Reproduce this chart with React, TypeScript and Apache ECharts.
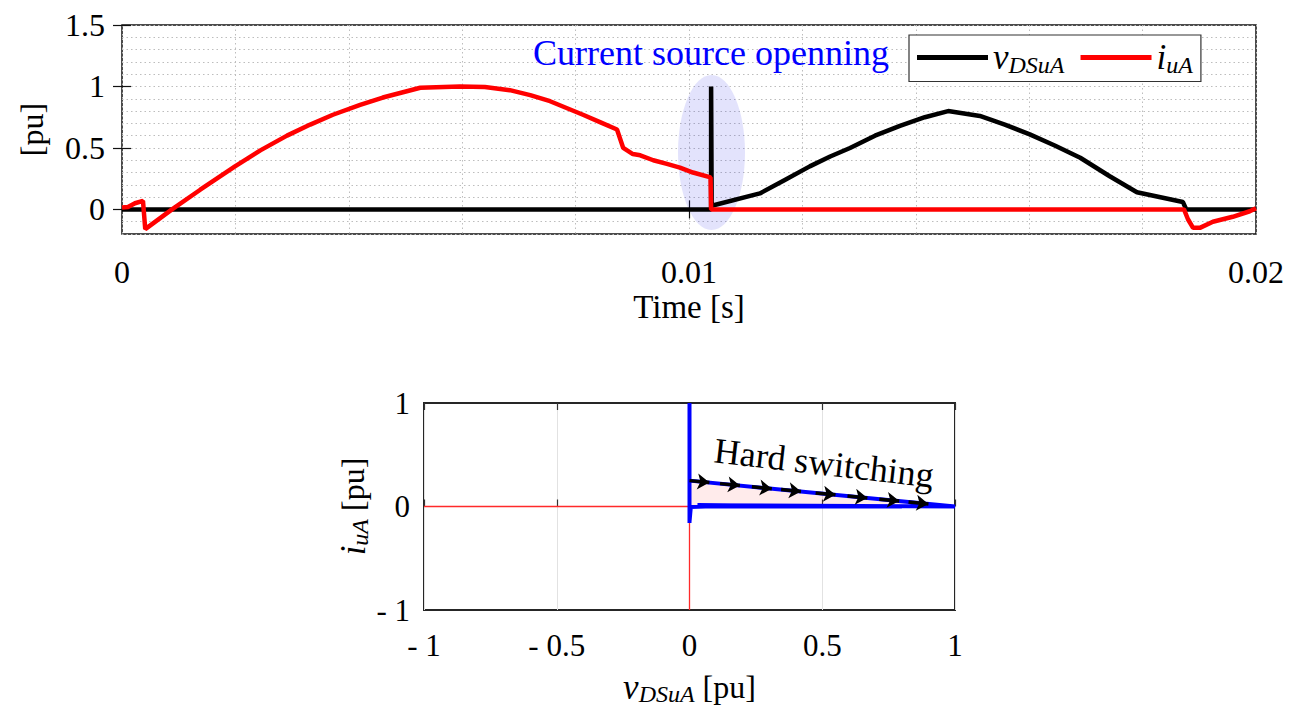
import React, { useEffect, useRef } from "react";
import * as echarts from "echarts";

const FONT = "'Liberation Serif', 'DejaVu Serif', serif";

// ---- top chart data (time in s, values in pu) ----
const vTime = [0, 0.01039, 0.01039, 0.0104, 0.01125, 0.01169, 0.01213, 0.01249, 0.01284, 0.01328, 0.01372, 0.01416, 0.01457, 0.01513, 0.01557, 0.01601, 0.01645, 0.0169, 0.01742, 0.0179, 0.01871, 0.01877, 0.02];
const vVal = [0, 0, 1, 0.03, 0.13, 0.24, 0.35, 0.43, 0.5, 0.6, 0.68, 0.75, 0.8, 0.76, 0.69, 0.61, 0.52, 0.42, 0.27, 0.14, 0.06, 0, 0];

const iTime = [0, 0.000106, 0.000229, 0.00037, 0.00041, 0.000882, 0.00138, 0.001993, 0.00244, 0.00291, 0.00332, 0.00372, 0.00420, 0.0046, 0.00526, 0.00596, 0.00640, 0.00684, 0.00720, 0.00755, 0.00813, 0.00843, 0.00873, 0.00884, 0.00901, 0.00914, 0.00937, 0.00961, 0.00984, 0.01007, 0.01038, 0.01039, 0.01873, 0.0188, 0.01889, 0.01901, 0.01924, 0.01959, 0.01989, 0.02];
const iVal = [0.015, 0.02, 0.05, 0.07, -0.16, 0, 0.16, 0.35, 0.48, 0.6, 0.69, 0.77, 0.85, 0.91, 0.99, 1.0, 0.995, 0.97, 0.93, 0.88, 0.77, 0.71, 0.65, 0.5, 0.45, 0.44, 0.4, 0.37, 0.34, 0.3, 0.26, 0, 0, -0.08, -0.15, -0.15, -0.1, -0.06, -0.015, 0.01];

const topXTicks = [0, 0.01, 0.02];
const topXTickLabels = ["0", "0.01", "0.02"];
const topXInnerTicks = [0.01];
const topYTicks = [0, 0.5, 1, 1.5];

// ---- bottom chart data (v, i in pu) ----
const loopV = [0, 0, 0, 0, 0, 1, 0.03, 0.8, 0.06, 0.005, 0, 0];
const loopI = [0, 0.07, -0.16, 1, 0.25, 0, 0.012, 0, 0, -0.005, -0.15, 0];
const fillV = [0, 1];
const fillI = [0.25, 0];
const zeroHV = [-1, 1];
const zeroHI = [0, 0];
const zeroVV = [0, 0];
const zeroVI = [-1, 1];
const arrowStartV = [0, 0.115, 0.235, 0.345, 0.475, 0.595, 0.715, 0.825];
const arrowStartI = [0.25, 0.221, 0.191, 0.164, 0.131, 0.101, 0.071, 0.044];
const arrowEndV = [0.075, 0.19, 0.31, 0.42, 0.55, 0.67, 0.79, 0.9];
const arrowEndI = [0.231, 0.2025, 0.1725, 0.145, 0.1125, 0.0825, 0.0525, 0.025];
const botXTicks = [-1, -0.5, 0, 0.5, 1];
const botYTicks = [-1, 0, 1];

const zip = (a: number[], b: number[]) => a.map((x, k) => [x, b[k]]);
const signedLabel = (v: number) => (v < 0 ? "- " + String(Math.abs(v)) : String(v));

export default function App() {
  const ref = useRef<HTMLDivElement>(null);
  useEffect(() => {
    document.body.style.margin = "0";
    const chart = echarts.init(ref.current!, null, { renderer: "svg" });
    const italicRich = {
      v: { fontFamily: FONT, fontStyle: "italic", fontSize: 35, color: "#000" },
      s: { fontFamily: FONT, fontStyle: "italic", fontSize: 24, color: "#000", padding: [14, 0, 0, 0] },
      n: { fontFamily: FONT, fontSize: 32, color: "#000" },
    } as any;
    const dotted = { show: true, lineStyle: { color: "#bdbdbd", width: 1, type: [1.5, 3] } };
    const tickStyle = { color: "#111", width: 1.2 };
    const option: any = {
      animation: false,
      backgroundColor: "#fff",
      grid: [
        { left: 122, top: 25, width: 1134, height: 209, show: true, borderColor: "#111", borderWidth: 1.5, backgroundColor: "transparent" },
        { left: 424, top: 403, width: 531, height: 207, show: true, borderColor: "#262626", borderWidth: 2, backgroundColor: "transparent" },
      ],
      xAxis: [
        {
          gridIndex: 0, type: "value", min: 0, max: 0.02,
          axisLine: { show: false },
          axisTick: { show: true, inside: true, length: 9, customValues: topXInnerTicks, lineStyle: tickStyle },
          axisLabel: {
            customValues: topXTicks, margin: 22, fontFamily: FONT, fontSize: 32, color: "#000",
            formatter: (v: number) => { const k = topXTicks.findIndex((t) => Math.abs(t - v) < 1e-9); return k >= 0 ? topXTickLabels[k] : ""; },
          },
          splitLine: { show: false },
          name: "Time [s]", nameLocation: "middle", nameGap: 56,
          nameTextStyle: { fontFamily: FONT, fontSize: 33, color: "#000" },
        },
        {
          gridIndex: 0, type: "value", min: 0, max: 0.02, position: "top",
          axisLine: { show: false },
          axisTick: { show: true, inside: true, length: 9, customValues: topXInnerTicks, lineStyle: tickStyle },
          axisLabel: { show: false }, splitLine: { show: false },
        },
        {
          gridIndex: 1, type: "value", min: -1, max: 1, interval: 0.5,
          axisLine: { show: false },
          axisTick: { show: true, inside: true, length: 7, lineStyle: { color: "#333", width: 1.2 } },
          axisLabel: { margin: 20, fontFamily: FONT, fontSize: 31, color: "#000", formatter: (v: number) => signedLabel(v), customValues: botXTicks },
          splitLine: { show: true, lineStyle: { color: "#e2e2e2", width: 1 } },
          name: "{v|v}{s|DSuA}{n| [pu]}", nameLocation: "middle", nameGap: 58,
          nameTextStyle: { rich: italicRich },
        },
        {
          gridIndex: 1, type: "value", min: -1, max: 1, interval: 0.5, position: "top",
          axisLine: { show: false },
          axisTick: { show: true, inside: true, length: 7, lineStyle: { color: "#333", width: 1.2 } },
          axisLabel: { show: false }, splitLine: { show: false },
        },
        {
          gridIndex: 0, type: "value", min: 0, max: 0.02, interval: 0.002, position: "bottom", offset: 0,
          axisLine: { show: false }, axisTick: { show: false }, axisLabel: { show: false },
          splitLine: dotted,
        },
      ],
      yAxis: [
        {
          gridIndex: 0, type: "value", min: -0.2, max: 1.5,
          axisLine: { show: false },
          axisTick: { show: true, inside: true, length: 9, customValues: topYTicks, lineStyle: tickStyle },
          axisLabel: { customValues: topYTicks, margin: 17, fontFamily: FONT, fontSize: 32, color: "#000" },
          splitLine: { show: false },
          name: "[pu]", nameLocation: "middle", nameGap: 74, nameRotate: 90,
          nameTextStyle: { fontFamily: FONT, fontSize: 32, color: "#000" },
        },
        {
          gridIndex: 0, type: "value", min: -0.2, max: 1.5, position: "right",
          axisLine: { show: false },
          axisTick: { show: true, inside: true, length: 9, customValues: topYTicks, lineStyle: tickStyle },
          axisLabel: { show: false }, splitLine: { show: false },
        },
        {
          gridIndex: 1, type: "value", min: -1, max: 1, interval: 1,
          axisLine: { show: false },
          axisTick: { show: false },
          axisLabel: { margin: 14, fontFamily: FONT, fontSize: 31, color: "#000", formatter: (v: number) => signedLabel(v), customValues: botYTicks },
          splitLine: { show: false },
          name: "{v|i}{s|uA}{n| [pu]}", nameLocation: "middle", nameGap: 52, nameRotate: 90,
          nameTextStyle: { rich: italicRich },
        },
        {
          gridIndex: 0, type: "value", min: -0.2, max: 1.5, interval: 0.1, position: "left",
          axisLine: { show: false }, axisTick: { show: false }, axisLabel: { show: false },
          splitLine: dotted,
        },
      ],
      legend: {
        left: 909, top: 35, orient: "horizontal",
        data: ["vDSuA", "iuA"],
        icon: "rect",
        itemWidth: 71, itemHeight: 5, itemGap: 16,
        padding: [5, 8, 5, 8],
        borderColor: "#333", borderWidth: 1.2, backgroundColor: "#fff",
        formatter: (name: string) => (name === "vDSuA" ? "{v|v}{s|DSuA}" : "{v|i}{s|uA}"),
        textStyle: { rich: italicRich, padding: [0, 0, 0, 0] },
      },
      graphic: [
        { type: "ellipse", z: 1, shape: { cx: 711.5, cy: 152.5, rx: 33.5, ry: 77.5 }, style: { fill: "rgba(40,40,230,0.13)" } },
        { type: "text", z: 10, x: 711, y: 53, style: { text: "Current source openning", fill: "#0000ff", fontFamily: FONT, fontSize: 36, align: "center", verticalAlign: "middle" } },
        { type: "text", z: 10, x: 824, y: 463, rotation: -0.115, style: { text: "Hard switching", fill: "#000", fontFamily: FONT, fontSize: 36, align: "center", verticalAlign: "middle" } },
      ],
      series: [
        { name: "vDSuA", type: "line", xAxisIndex: 0, yAxisIndex: 0, data: zip(vTime, vVal), showSymbol: false, symbol: "none", z: 3, lineStyle: { color: "#000", width: 4.5 }, itemStyle: { color: "#000" } },
        { name: "iuA", type: "line", xAxisIndex: 0, yAxisIndex: 0, data: zip(iTime, iVal), showSymbol: false, symbol: "none", z: 4, lineStyle: { color: "#ff0000", width: 4.5 }, itemStyle: { color: "#ff0000" } },
        { name: "fill", type: "line", xAxisIndex: 2, yAxisIndex: 2, data: zip(fillV, fillI), symbol: "none", lineStyle: { width: 0 }, areaStyle: { color: "rgba(255,0,0,0.11)" }, z: 2 },
        { name: "zeroH", type: "line", xAxisIndex: 2, yAxisIndex: 2, data: zip(zeroHV, zeroHI), symbol: "none", lineStyle: { color: "#ff2a2a", width: 1.3 }, z: 3 },
        { name: "zeroV", type: "line", xAxisIndex: 2, yAxisIndex: 2, data: zip(zeroVV, zeroVI), symbol: "none", lineStyle: { color: "#ff2a2a", width: 1.3 }, z: 3 },
        { name: "loop", type: "line", xAxisIndex: 2, yAxisIndex: 2, data: zip(loopV, loopI), symbol: "none", lineStyle: { color: "#0000ff", width: 4 }, z: 4 },
        {
          name: "arrows", type: "lines", coordinateSystem: "cartesian2d", xAxisIndex: 2, yAxisIndex: 2, z: 5,
          symbol: ["none", "arrow"], symbolSize: 12,
          lineStyle: { color: "#000", width: 3.5, opacity: 1 },
          data: arrowStartV.map((v, k) => ({ coords: [[v, arrowStartI[k]], [arrowEndV[k], arrowEndI[k]]] })),
        },
      ],
    };
    chart.setOption(option);
    return () => chart.dispose();
  }, []);
  return <div ref={ref} style={{ width: 1300, height: 708 }} />;
}
